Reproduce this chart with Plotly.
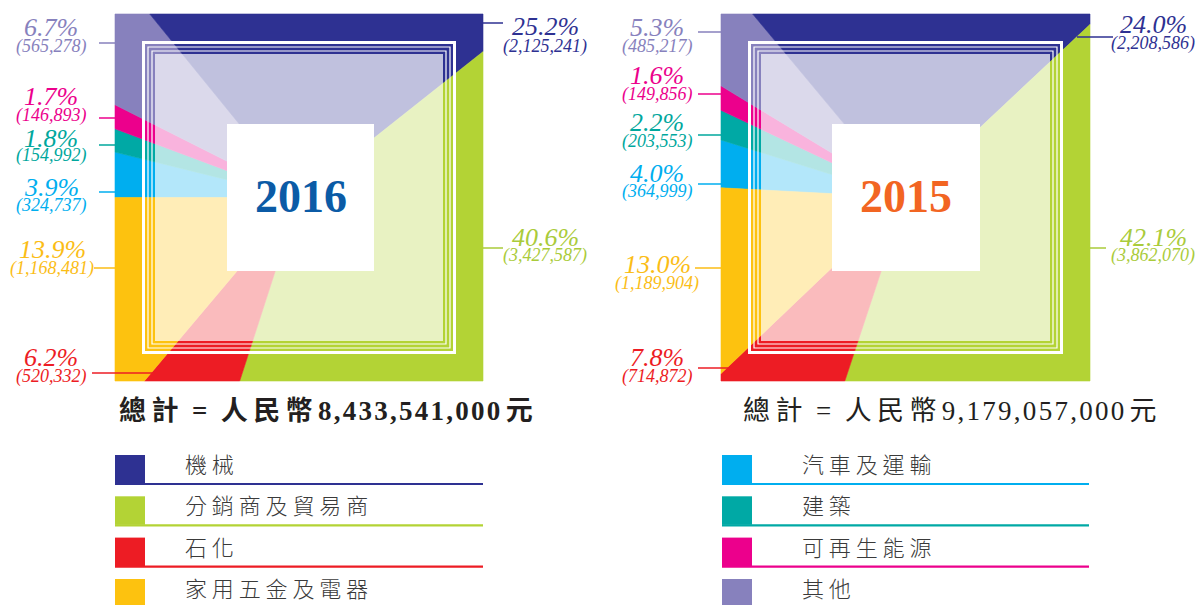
import math
import plotly.graph_objects as go

# ---------------- data ----------------
categories = ["機械", "分銷商及貿易商", "石化", "家用五金及電器",
              "汽車及運輸", "建築", "可再生能源", "其他"]
pct_2016 = [25.2, 40.6, 6.2, 13.9, 3.9, 1.8, 1.7, 6.7]
val_2016 = [2125241, 3427587, 520332, 1168481, 324737, 154992, 146893, 565278]
pct_2015 = [24.0, 42.1, 7.8, 13.0, 4.0, 2.2, 1.6, 5.3]
val_2015 = [2208586, 3862070, 714872, 1189904, 364999, 203553, 149856, 485217]
years = ["2016", "2015"]
totals = ["8,433,541,000", "9,179,057,000"]

# ---------------- styles ----------------
colors = ["#2e3192", "#b3d335", "#ed1c24", "#fdc20f",
          "#00aeef", "#00a9a5", "#ec008c", "#8781bd"]
label_colors = ["#2e3192", "#aacb3a", "#ed1c24", "#fbbd16",
                "#00aeef", "#00a79d", "#ec008c", "#8781bd"]
clockwise_order = [4, 5, 6, 7, 0, 1, 2, 3]   # starting at the 9 o'clock ray

panels = [
    dict(values=val_2016, pcts=pct_2016, year=years[0], total=totals[0],
         x0=115, x1=483, y0=14, y1=381, base=270.0,
         box=(227, 374, 124, 271), year_color="#0b5ba6", total_bold=True,
         total_x=326,
         # (pct x, pct y, value y, line y, line x0, line x1)
         labels=[(545, 26, 46, 23, 483, 503),
                 (545, 237, 255, 248, 483, 503),
                 (51, 357, 376, 373, 92, 152),
                 (52, 249, 268, 268, 94, 115),
                 (51, 187, 205, 192, 99, 115),
                 (51, 138, 155, 145, 99, 115),
                 (51, 96, 115, 118, 99, 115),
                 (51, 27, 46, 43, 99, 115)]),
    dict(values=val_2015, pcts=pct_2015, year=years[1], total=totals[1],
         x0=721, x1=1090, y0=14, y1=381, base=273.0,
         box=(832, 980, 124, 271), year_color="#f26522", total_bold=False,
         total_x=950,
         labels=[(1153, 24, 43, 37, 1077, 1113),
                 (1153, 237, 255, 248, 1090, 1106),
                 (657, 357, 376, 368, 698, 732),
                 (657, 264, 283, 268, 695, 721),
                 (657, 173, 191, 184, 698, 721),
                 (657, 122, 141, 135, 698, 721),
                 (657, 75, 94, 94, 698, 721),
                 (657, 27, 46, 32, 698, 721)]),
]

legends = [
    dict(cats=[0, 1, 2, 3], sq0=115, sq1=145, line_end=483, text_x=183),
    dict(cats=[4, 5, 6, 7], sq0=722, sq1=752, line_end=1089, text_x=800),
]
legend_tops = [455, 496.3, 537.6, 579]

W, H = 1195, 605
SERIF = "Liberation Serif, Times New Roman, serif"
CJK = "Noto Sans CJK TC, Noto Sans CJK SC, sans-serif"
THIN = "\u2009"
HAIR = "\u200a"
EN = "\u2002"


def spaced_total(num):
    digits = HAIR.join(num)
    return ("總" + THIN + "計" + EN + "=" + EN + "人" + THIN + "民" + THIN + "幣" + THIN
            + digits + THIN + "元")


def square_point(cx, cy, hx, hy, theta):
    t = math.radians(theta)
    dx, dy = math.sin(t), -math.cos(t)
    cands = []
    if abs(dx) > 1e-12:
        cands.append(hx / abs(dx))
    if abs(dy) > 1e-12:
        cands.append(hy / abs(dy))
    r = min(cands)
    return cx + r * dx, cy + r * dy


def wedge(cx, cy, hx, hy, a0, a1):
    c = math.degrees(math.atan2(hx, hy))
    corners = [c, 180 - c, 180 + c, 360 - c]
    angles = [a0, a1]
    for k in range(int(a0 // 360) - 1, int(a1 // 360) + 2):
        for ca in corners:
            a = ca + 360 * k
            if a0 < a < a1:
                angles.append(a)
    angles.sort()
    xs, ys = [cx], [cy]
    for a in angles:
        px, py = square_point(cx, cy, hx, hy, a)
        xs.append(px)
        ys.append(py)
    xs.append(cx)
    ys.append(cy)
    return xs, ys


fig = go.Figure()
shapes = []
annotations = []

for p in panels:
    cx = (p["x0"] + p["x1"]) / 2
    cy = (p["y0"] + p["y1"]) / 2
    hx = (p["x1"] - p["x0"]) / 2
    hy = (p["y1"] - p["y0"]) / 2
    total = sum(p["values"])
    a = p["base"]
    for i in clockwise_order:
        span = p["values"][i] / total * 360.0
        xs, ys = wedge(cx, cy, hx, hy, a, a + span)
        fig.add_trace(go.Scatter(x=xs, y=ys, mode="lines", fill="toself",
                                 fillcolor=colors[i],
                                 line=dict(color=colors[i], width=0.6),
                                 hoverinfo="skip", showlegend=False,
                                 name=categories[i]))
        a += span

    # light inner area
    ins = 40
    shapes.append(dict(type="rect", xref="x", yref="y", layer="above",
                       x0=p["x0"] + ins, x1=p["x1"] - ins,
                       y0=p["y0"] + ins, y1=p["y1"] - ins,
                       fillcolor="rgba(255,255,255,0.7)", line=dict(width=0)))
    # frame lines
    for inset, w in [(28.5, 3), (33, 1.2), (37, 1.2)]:
        shapes.append(dict(type="rect", xref="x", yref="y", layer="above",
                           x0=p["x0"] + inset, x1=p["x1"] - inset,
                           y0=p["y0"] + inset, y1=p["y1"] - inset,
                           fillcolor="rgba(0,0,0,0)",
                           line=dict(color="white", width=w)))
    # centre box
    bx0, bx1, by0, by1 = p["box"]
    shapes.append(dict(type="rect", xref="x", yref="y", layer="above",
                       x0=bx0, x1=bx1, y0=by0, y1=by1,
                       fillcolor="white", line=dict(width=0)))
    annotations.append(dict(x=(bx0 + bx1) / 2, y=(by0 + by1) / 2 - 1,
                            xref="x", yref="y", showarrow=False,
                            text="<b>" + p["year"] + "</b>",
                            font=dict(family=SERIF, size=46, color=p["year_color"]),
                            xanchor="center", yanchor="middle"))

    # labels + leader lines
    for i, (lx, py, vy, ly, lx0, lx1) in enumerate(p["labels"]):
        annotations.append(dict(x=lx, y=py, xref="x", yref="y", showarrow=False,
                                text="<i>%.1f%%</i>" % p["pcts"][i],
                                font=dict(family=SERIF, size=26, color=label_colors[i]),
                                xanchor="center", yanchor="middle"))
        annotations.append(dict(x=lx, y=vy, xref="x", yref="y", showarrow=False,
                                text="<i>(" + format(p["values"][i], ",") + ")</i>",
                                font=dict(family=SERIF, size=18, color=label_colors[i]),
                                xanchor="center", yanchor="middle"))
        shapes.append(dict(type="line", xref="x", yref="y", layer="above",
                           x0=lx0, x1=lx1, y0=ly, y1=ly,
                           line=dict(color=label_colors[i], width=1.5)))

    ttxt = spaced_total(p["total"])
    if p["total_bold"]:
        ttxt = "<b>" + ttxt + "</b>"
    annotations.append(dict(x=p["total_x"], y=411, xref="x", yref="y",
                            showarrow=False, text=ttxt,
                            font=dict(family=SERIF + ", " + CJK, size=27, color="#231f20"),
                            xanchor="center", yanchor="middle"))

# legends
for lg in legends:
    for row, ci in enumerate(lg["cats"]):
        top = legend_tops[row]
        shapes.append(dict(type="rect", xref="x", yref="y", layer="above",
                           x0=lg["sq0"], x1=lg["sq1"], y0=top, y1=top + 28.5,
                           fillcolor=colors[ci], line=dict(width=0)))
        shapes.append(dict(type="line", xref="x", yref="y", layer="above",
                           x0=lg["sq0"], x1=lg["line_end"], y0=top + 29, y1=top + 29,
                           line=dict(color=colors[ci], width=2.2)))
        annotations.append(dict(x=lg["text_x"], y=top + 8, xref="x", yref="y",
                                showarrow=False, text=" ".join(categories[ci]),
                                font=dict(family=CJK, size=22, color="#3a3a3a", weight=300),
                                xanchor="left", yanchor="middle"))

fig.update_layout(
    width=W, height=H,
    margin=dict(l=0, r=0, t=0, b=0),
    paper_bgcolor="white", plot_bgcolor="white",
    xaxis=dict(range=[0, W], visible=False, fixedrange=True),
    yaxis=dict(range=[H, 0], visible=False, fixedrange=True),
    shapes=shapes, annotations=annotations, showlegend=False,
)

fig.write_html("out.html",
               config={"displayModeBar": False, "staticPlot": True},
               post_script="document.body.style.margin='0';"
                           "document.body.style.overflow='hidden';")
